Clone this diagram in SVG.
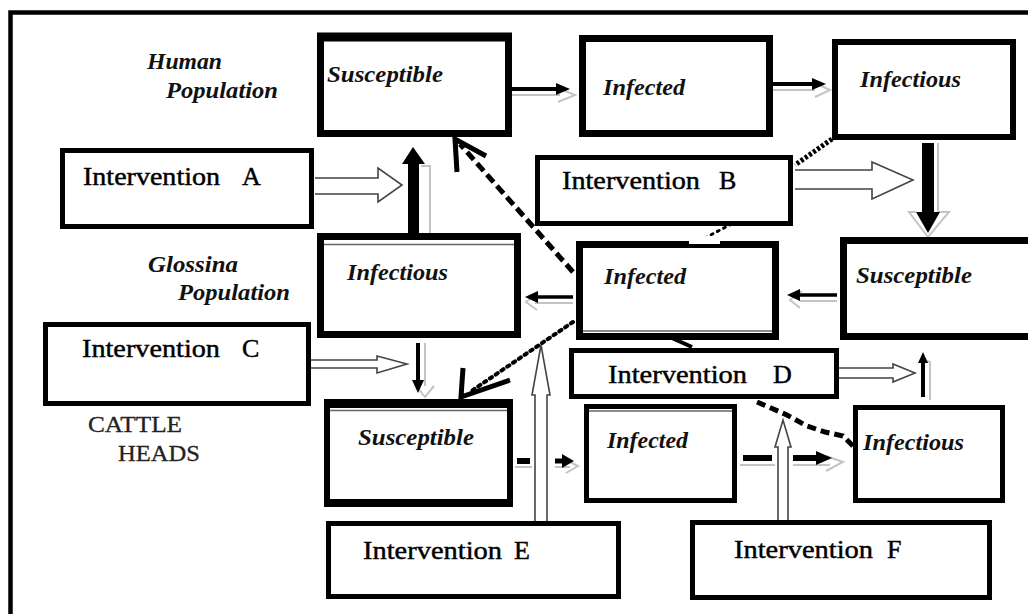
<svg xmlns="http://www.w3.org/2000/svg" width="1028" height="614" viewBox="0 0 1028 614">
<style>
.box{fill:#fff;stroke:#000}
.thin{stroke:#666;stroke-width:1.5;fill:none}
.it{font-family:"Liberation Serif",serif;font-style:italic;font-weight:bold;font-size:23px;fill:#111}
.iv{font-family:"Liberation Serif",serif;font-size:26px;fill:#000;stroke:#000;stroke-width:0.45}
.cat{font-family:"Liberation Serif",serif;font-size:24px;fill:#222;stroke:#222;stroke-width:0.3}
.hol{fill:#fff;stroke:#444;stroke-width:1.6;stroke-linejoin:miter}
.blk{fill:#000;stroke:none}
.shd{fill:none;stroke:#c4c4c4;stroke-width:2}
.ln{stroke:#000;fill:none}
</style>
<rect x="10.5" y="12.5" width="1030" height="620" fill="#fff" stroke="#000" stroke-width="4.5"/>

<g id="labels">
<text class="it" x="147" y="69" textLength="75" lengthAdjust="spacingAndGlyphs" font-size="22">Human</text>
<text class="it" x="166" y="98" textLength="112" lengthAdjust="spacingAndGlyphs" font-size="22">Population</text>
<text class="it" x="148" y="272" textLength="90" lengthAdjust="spacingAndGlyphs" font-size="22">Glossina</text>
<text class="it" x="178" y="300" textLength="112" lengthAdjust="spacingAndGlyphs" font-size="22">Population</text>
<text class="cat" x="88" y="432" textLength="94" lengthAdjust="spacingAndGlyphs">CATTLE</text>
<text class="cat" x="118" y="461" textLength="82" lengthAdjust="spacingAndGlyphs">HEADS</text>
</g>

<g id="connectors">
<!-- grey shadows -->
<polyline class="shd" points="512,95 560,95"/>
<polyline class="shd" points="558,88 575,95 558,102"/>
<polyline class="shd" points="773,90 815,90"/>
<polyline class="shd" points="815,83 830,90 815,97"/>
<polyline class="shd" points="938,143 938,212 949,212 928,237 909,212 916,212"/>
<polyline class="shd" points="430,233 430,166 421,166"/>
<polyline class="shd" points="837,301 800,301"/>
<polyline class="shd" points="802,291 790,300 800,308"/>
<polyline class="shd" points="573,303 535,303"/>
<polyline class="shd" points="538,293 526,302 537,310"/>
<polyline class="shd" points="425,343 425,386"/>
<polyline class="shd" points="417,387 425,397 434,386"/>
<polyline class="shd" points="515,467 532,467"/>
<polyline class="shd" points="555,467 570,467"/>
<polyline class="shd" points="566,460 578,466 566,473"/>
<polyline class="shd" points="740,465 775,465"/>
<polyline class="shd" points="793,465 830,465"/>
<polyline class="shd" points="826,456 843,462 826,471"/>
<polyline class="shd" points="930,400 930,362 924,360"/>

<!-- human transitions -->
<line class="ln" x1="512" y1="89" x2="559" y2="89" stroke-width="4"/>
<polygon class="blk" points="556,83 570,89 556,95"/>
<line class="ln" x1="773" y1="84" x2="815" y2="84" stroke-width="4"/>
<polygon class="blk" points="812,78 826,84 812,90"/>
<rect class="blk" x="922" y="143" width="12" height="70"/>
<polygon class="blk" points="916,212 940,212 928,233"/>

<!-- glossina to human -->
<rect class="blk" x="408" y="162" width="11" height="71"/>
<polygon class="blk" points="402,164 425,164 413,147"/>

<!-- glossina transitions -->
<line class="ln" x1="837" y1="295" x2="797" y2="295" stroke-width="3.5"/>
<polygon class="blk" points="800,289 787,295 800,301"/>
<line class="ln" x1="573" y1="297" x2="535" y2="297" stroke-width="3.5"/>
<polygon class="blk" points="538,291 525,297 538,303"/>

<!-- glossina infectious to cattle susceptible -->
<line class="ln" x1="418" y1="343" x2="418" y2="383" stroke-width="4"/>
<polygon class="blk" points="412,380 424,380 418,393"/>

<!-- cattle transitions -->
<line class="ln" x1="517" y1="461" x2="530" y2="461" stroke-width="6"/>
<line class="ln" x1="555" y1="461" x2="565" y2="461" stroke-width="5"/>
<polygon class="blk" points="562,454 574,461 562,468"/>
<line class="ln" x1="743" y1="458" x2="772" y2="458" stroke-width="6"/>
<line class="ln" x1="793" y1="458" x2="820" y2="458" stroke-width="6"/>
<polygon class="blk" points="816,451 832,458 816,465"/>
<line class="ln" x1="923" y1="397" x2="923" y2="360" stroke-width="4"/>
<polygon class="blk" points="918,363 928,363 923,352"/>

<!-- infection links -->
<line class="ln" x1="573" y1="272" x2="460" y2="144" stroke-width="5" stroke-dasharray="10 5"/>
<polyline class="ln" points="457,172 455,139 486,156" stroke-width="5"/>
<line class="ln" x1="573" y1="322" x2="470" y2="392" stroke-width="4" stroke-dasharray="2.5 4.5" stroke-linecap="round"/>
<polyline class="ln" points="463,368 461,397 510,380" stroke-width="5"/>
<line class="ln" x1="832" y1="139" x2="795" y2="165" stroke-width="5" stroke-dasharray="3 2"/>
<line class="ln" x1="705" y1="238" x2="737" y2="221" stroke-width="3" stroke-dasharray="2 5" stroke-linecap="round"/>
<polyline class="ln" points="757,402 787,415 807,426 825,432 843,436 854,447" stroke-width="5" stroke-dasharray="9 5"/>
<line class="ln" x1="663" y1="334" x2="692" y2="347" stroke-width="4"/>

<!-- intervention hollow arrows -->
<path class="hol" d="M315,178 H378 V168 L402,185 L378,202 V194 H315"/>
<path class="hol" d="M795,170 H872 V162 L913,180 L872,199 V189 H795"/>
<path class="hol" d="M311,360 H377 V356 L407,364 L377,373 V368 H311"/>
<path class="hol" d="M839,368 H893 V364 L915,373 L893,382 V378 H839"/>
<path class="hol" d="M535,521 V395 H532 L541,345 L550,395 H547 V521"/>
<path class="hol" d="M778,520 V447 H775 L783,420 L791,447 H788 V520"/>
</g>

<g id="human-susceptible">
<rect class="box" x="320.5" y="36.5" width="188" height="97" stroke-width="7"/>
<line class="ln" x1="317" y1="37" x2="512" y2="37" stroke-width="9"/>
<text class="it" x="327" y="82" textLength="116" lengthAdjust="spacingAndGlyphs">Susceptible</text>
</g>
<g id="human-infected">
<rect class="box" x="582.5" y="38.5" width="187" height="95" stroke-width="7"/>
<text class="it" x="603" y="95" textLength="82" lengthAdjust="spacingAndGlyphs">Infected</text>
</g>
<g id="human-infectious">
<rect class="box" x="835" y="42" width="178" height="95" stroke-width="6"/>
<text class="it" x="860" y="87" textLength="101" lengthAdjust="spacingAndGlyphs">Infectious</text>
</g>

<g id="intervention-a">
<rect class="box" x="62.5" y="150.5" width="249" height="76" stroke-width="5"/>
<text class="iv" x="83" y="185" textLength="137" lengthAdjust="spacingAndGlyphs">Intervention</text>
<text class="iv" x="242" y="185">A</text>
</g>
<g id="intervention-b">
<rect class="box" x="537.5" y="157.5" width="253" height="66" stroke-width="5"/>
<text class="iv" x="562" y="189" textLength="138" lengthAdjust="spacingAndGlyphs">Intervention</text>
<text class="iv" x="719" y="189">B</text>
</g>

<g id="glossina-infectious">
<rect class="box" x="320.5" y="236.5" width="197" height="98" stroke-width="7"/>
<line class="thin" x1="324" y1="244.5" x2="514" y2="244.5"/>
<text class="it" x="347" y="280" textLength="101" lengthAdjust="spacingAndGlyphs">Infectious</text>
</g>
<g id="glossina-infected">
<rect class="box" x="579.5" y="244.5" width="196" height="92" stroke-width="7"/>
<line class="thin" x1="583" y1="331" x2="772" y2="331"/>
<rect x="689" y="236" width="31" height="8" fill="#fff"/>
<text class="it" x="604" y="284" textLength="82" lengthAdjust="spacingAndGlyphs">Infected</text>
</g>
<g id="glossina-susceptible">
<rect class="box" x="843.5" y="240.5" width="190" height="96" stroke-width="7"/>
<text class="it" x="856" y="283" textLength="116" lengthAdjust="spacingAndGlyphs">Susceptible</text>
</g>

<g id="intervention-c">
<rect class="box" x="45.5" y="324.5" width="263" height="79" stroke-width="5"/>
<text class="iv" x="82" y="357" textLength="138" lengthAdjust="spacingAndGlyphs">Intervention</text>
<text class="iv" x="242" y="357">C</text>
</g>
<g id="intervention-d">
<rect class="box" x="571.5" y="350.5" width="265" height="46" stroke-width="5"/>
<text class="iv" x="608" y="383" textLength="139" lengthAdjust="spacingAndGlyphs">Intervention</text>
<text class="iv" x="773" y="383">D</text>
</g>

<g id="cattle-susceptible">
<rect class="box" x="327" y="402" width="183" height="102" stroke-width="6"/>
<line class="ln" x1="324" y1="403.5" x2="513" y2="403.5" stroke-width="9"/>
<line class="ln" x1="324" y1="503" x2="513" y2="503" stroke-width="8"/>
<line class="thin" x1="330" y1="410.5" x2="507" y2="410.5"/>
<text class="it" x="358" y="445" textLength="116" lengthAdjust="spacingAndGlyphs">Susceptible</text>
</g>
<g id="cattle-infected">
<rect class="box" x="586.5" y="406.5" width="148" height="94" stroke-width="5"/>
<line class="thin" x1="589" y1="411" x2="732" y2="411"/>
<text class="it" x="607" y="448" textLength="81" lengthAdjust="spacingAndGlyphs">Infected</text>
</g>
<g id="cattle-infectious">
<rect class="box" x="855.5" y="407.5" width="147" height="93" stroke-width="5"/>
<text class="it" x="863" y="450" textLength="101" lengthAdjust="spacingAndGlyphs">Infectious</text>
</g>

<g id="intervention-e">
<rect class="box" x="328.5" y="523.5" width="290" height="73" stroke-width="5"/>
<text class="iv" x="363" y="559" textLength="139" lengthAdjust="spacingAndGlyphs">Intervention</text>
<text class="iv" x="514" y="559">E</text>
</g>
<g id="intervention-f">
<rect class="box" x="692.5" y="522.5" width="297" height="75" stroke-width="5"/>
<text class="iv" x="734" y="558" textLength="139" lengthAdjust="spacingAndGlyphs">Intervention</text>
<text class="iv" x="887" y="558">F</text>
</g>
</svg>
